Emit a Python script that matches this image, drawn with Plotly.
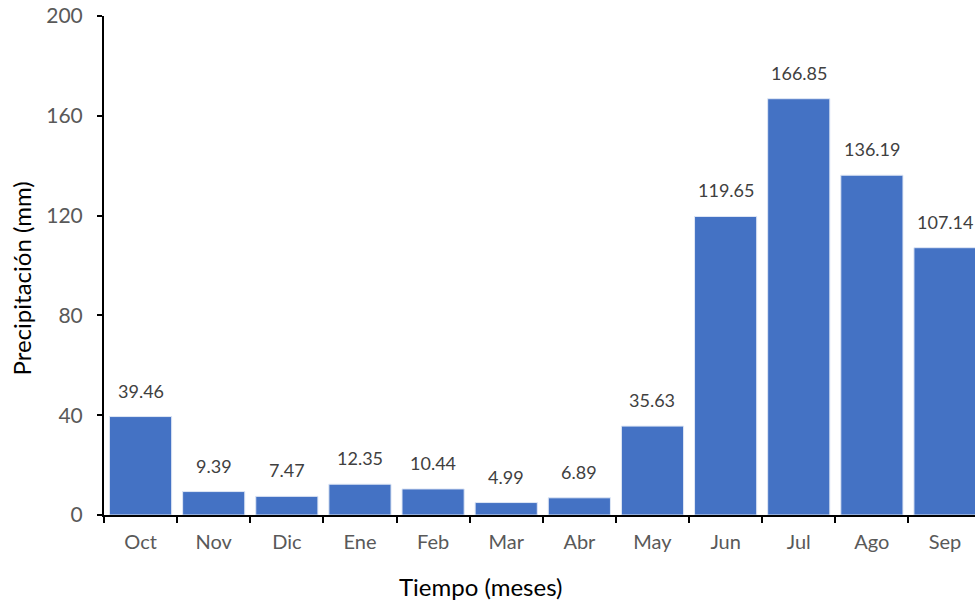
import plotly.graph_objects as go

# Monthly precipitation (mm), hydrological year Oct-Sep
months = ["Oct", "Nov", "Dic", "Ene", "Feb", "Mar", "Abr", "May", "Jun", "Jul", "Ago", "Sep"]
precip_mm = [39.46, 9.39, 7.47, 12.35, 10.44, 4.99, 6.89, 35.63, 119.65, 166.85, 136.19, 107.14]
y_ticks = [0, 40, 80, 120, 160, 200]

FONT = "Lato"
BAR_COLOR = "#4472C4"

fig = go.Figure()
fig.add_trace(go.Bar(
    x=months,
    y=precip_mm,
    marker=dict(color=BAR_COLOR, line=dict(color="#dfe7f5", width=1)),
    width=0.85,
    hoverinfo="x+y",
))

# value labels above each bar
for m, v in zip(months, precip_mm):
    fig.add_annotation(
        x=m, y=v, text=f"{v:.2f}", showarrow=False,
        yanchor="bottom", yshift=13,
        font=dict(family=FONT, size=18, color="#404040"),
    )

# axis titles
fig.add_annotation(
    xref="paper", yref="paper", x=0.4317, y=0, yshift=-71,
    text="Tiempo (meses)", showarrow=False, yanchor="middle",
    font=dict(family=FONT, size=24, color="#000000"),
)
fig.add_annotation(
    xref="paper", yref="paper", x=0, xshift=-83, y=0.5, yshift=-13,
    text="Precipitación (mm)", showarrow=False, textangle=-90,
    xanchor="center", yanchor="middle",
    font=dict(family=FONT, size=24, color="#000000"),
)

fig.update_layout(
    width=975, height=603,
    margin=dict(l=104, r=0, t=16, b=88),
    paper_bgcolor="white", plot_bgcolor="white",
    showlegend=False,
    bargap=0.15,
)
fig.update_xaxes(
    type="category",
    range=[-0.5, 11.41],
    tickson="boundaries",
    ticks="outside", ticklen=6, tickwidth=2, tickcolor="#000000",
    ticklabelstandoff=8,
    showline=True, linecolor="#000000", linewidth=2,
    showgrid=False, zeroline=False,
    tickfont=dict(family=FONT, size=20, color="#595959"),
)
fig.update_yaxes(
    range=[0, 200],
    tickvals=y_ticks,
    ticks="outside", ticklen=5, tickwidth=2, tickcolor="#000000",
    ticklabelstandoff=10,
    showline=True, linecolor="#000000", linewidth=2,
    showgrid=False, zeroline=False,
    tickfont=dict(family=FONT, size=21, color="#595959"),
)

fig.write_html("out.html")
